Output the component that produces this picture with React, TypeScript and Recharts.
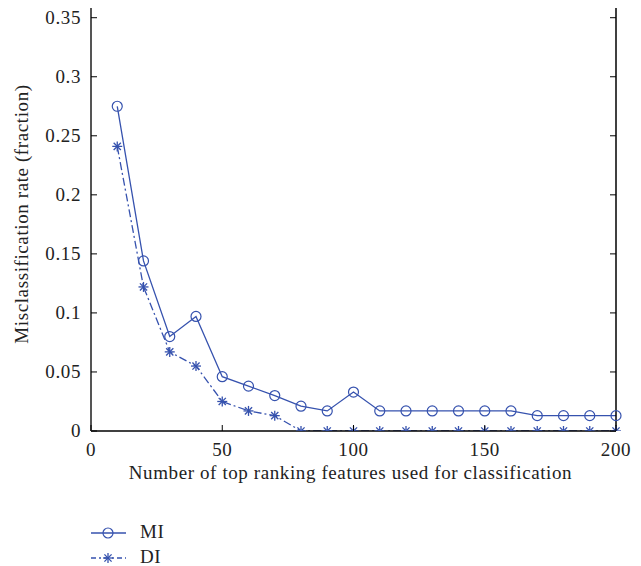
import React from 'react';
import { LineChart, Line, XAxis, YAxis, Label } from 'recharts';

const features = [10, 20, 30, 40, 50, 60, 70, 80, 90, 100, 110, 120, 130, 140, 150, 160, 170, 180, 190, 200];
const miRates = [0.275, 0.144, 0.080, 0.097, 0.046, 0.038, 0.030, 0.021, 0.017, 0.033, 0.017, 0.017, 0.017, 0.017, 0.017, 0.017, 0.013, 0.013, 0.013, 0.013];
const diRates = [0.241, 0.122, 0.067, 0.055, 0.025, 0.017, 0.013, 0, 0, 0, 0, 0, 0, 0, 0, 0, 0, 0, 0, 0];
const xTicks = [0, 50, 100, 150, 200];
const yTicks = [0, 0.05, 0.1, 0.15, 0.2, 0.25, 0.3, 0.35];
const seriesNames = ['MI', 'DI'];

const data = features.map((f, i) => ({ f, mi: miRates[i], di: diRates[i] }));

const BLUE = '#3652ae';
const FONT = '"Liberation Serif", "DejaVu Serif", serif';
const FS = 19;
const LS = 0.6;

const CircleDot = (props: any) => {
  const { cx, cy } = props;
  if (cx == null || cy == null) return null;
  return <circle cx={cx} cy={cy} r={5} fill="none" stroke={BLUE} strokeWidth={1.2} />;
};

const StarDot = (props: any) => {
  const { cx, cy } = props;
  if (cx == null || cy == null) return null;
  const r = 5;
  const d = r * 0.72;
  return (
    <g stroke={BLUE} strokeWidth={1.3}>
      <line x1={cx - r} y1={cy} x2={cx + r} y2={cy} />
      <line x1={cx} y1={cy - r} x2={cx} y2={cy + r} />
      <line x1={cx - d} y1={cy - d} x2={cx + d} y2={cy + d} />
      <line x1={cx - d} y1={cy + d} x2={cx + d} y2={cy - d} />
    </g>
  );
};

const XTick = (props: any) => {
  const { x, y, payload } = props;
  return (
    <g>
      <line x1={x} x2={x} y1={y} y2={y - 6} stroke="#000" strokeWidth={1} />
      <text x={x} y={y + 25} textAnchor="middle" fontFamily={FONT} fontSize={FS} letterSpacing={LS} fill="#222">
        {payload.value}
      </text>
    </g>
  );
};

const YTick = (props: any) => {
  const { x, y, payload } = props;
  return (
    <g>
      <line x1={x} x2={x + 6} y1={y} y2={y} stroke="#000" strokeWidth={1} />
      <text x={x - 10} y={y + 6} textAnchor="end" fontFamily={FONT} fontSize={FS} letterSpacing={LS} fill="#222">
        {String(payload.value)}
      </text>
    </g>
  );
};

const RTick = (props: any) => {
  const { x, y } = props;
  return <line x1={x} x2={x - 6} y1={y} y2={y} stroke="#000" strokeWidth={1} />;
};

export default function App() {
  return (
    <div style={{ position: 'relative', margin: '-8px -8px 0 -8px', width: 641, height: 566, background: '#fff' }}>
      <LineChart width={641} height={566} data={data} margin={{ top: 0, right: 0, left: 41, bottom: 75 }}>
        <XAxis
          type="number"
          dataKey="f"
          domain={[0, 200]}
          ticks={xTicks}
          tickSize={0}
          tickMargin={0}
          tick={<XTick />}
          height={60}
          axisLine={{ stroke: '#000', strokeWidth: 1.5 }}
          tickLine={false}
        >
          <Label
            content={(p: any) => {
              const vb = p.viewBox;
              return (
                <text x={vb.x + vb.width / 2 - 3} y={479} textAnchor="middle" fontFamily={FONT} fontSize={FS} letterSpacing={LS} fill="#222">
                  Number of top ranking features used for classification
                </text>
              );
            }}
          />
        </XAxis>
        <YAxis
          yAxisId="l"
          type="number"
          domain={[0, 0.365]}
          ticks={yTicks}
          allowDataOverflow
          tickSize={0}
          tickMargin={0}
          tick={<YTick />}
          width={50}
          axisLine={{ stroke: '#555', strokeWidth: 2 }}
          tickLine={false}
        >
          <Label
            content={() => (
              <text
                x={28}
                y={214}
                transform="rotate(-90 28 214)"
                textAnchor="middle"
                fontFamily={FONT}
                fontSize={FS}
                letterSpacing={LS}
                fill="#222"
              >
                Misclassification rate (fraction)
              </text>
            )}
          />
        </YAxis>
        <YAxis
          yAxisId="r"
          orientation="right"
          type="number"
          domain={[0, 0.365]}
          ticks={yTicks}
          allowDataOverflow
          tickSize={0}
          tickMargin={0}
          tick={<RTick />}
          width={25}
          axisLine={{ stroke: '#000', strokeWidth: 1.5 }}
          tickLine={false}
        />
        <Line
          yAxisId="l"
          dataKey="mi"
          name={seriesNames[0]}
          stroke={BLUE}
          strokeWidth={1.3}
          dot={<CircleDot />}
          activeDot={false}
          isAnimationActive={false}
        />
        <Line
          yAxisId="l"
          dataKey="di"
          name={seriesNames[1]}
          stroke={BLUE}
          strokeWidth={1.3}
          strokeDasharray="8 3 2 3"
          dot={<StarDot />}
          activeDot={false}
          isAnimationActive={false}
        />
      </LineChart>
      <svg
        width={200}
        height={58}
        style={{ position: 'absolute', left: 80, top: 508, pointerEvents: 'none' }}
      >
        <line x1={11} x2={46} y1={25} y2={25} stroke={BLUE} strokeWidth={1.3} />
        <CircleDot cx={28} cy={25} />
        <text x={60} y={30} fontFamily={FONT} fontSize={FS} letterSpacing={LS} fill="#222">{seriesNames[0]}</text>
        <line x1={11} x2={46} y1={50} y2={50} stroke={BLUE} strokeWidth={1.3} strokeDasharray="5 3 2 3" />
        <StarDot cx={28} cy={50} />
        <text x={60} y={55} fontFamily={FONT} fontSize={FS} letterSpacing={LS} fill="#222">{seriesNames[1]}</text>
      </svg>
    </div>
  );
}
